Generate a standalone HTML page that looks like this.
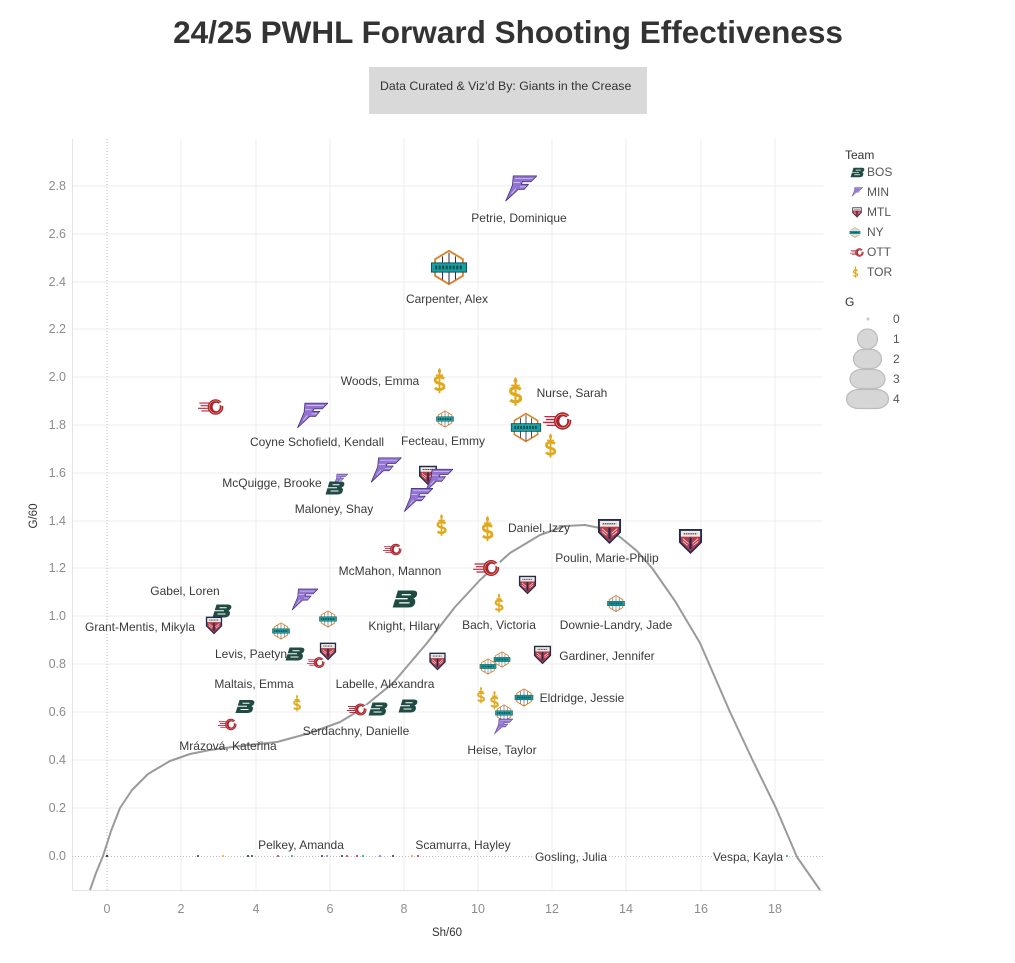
<!DOCTYPE html>
<html><head><meta charset="utf-8"><style>
html,body{margin:0;padding:0;background:#fff;}
svg{display:block;font-family:"Liberation Sans","DejaVu Sans",sans-serif;}
</style></head><body>
<svg width="1015" height="963" viewBox="0 0 1015 963" xmlns="http://www.w3.org/2000/svg">
<defs>
<symbol id="min" viewBox="0 0 40 32">
<path d="M12 1 H40 L33 8 H23 L21.5 11 H30 L25 17 H18 L3 31 L9 17 L11 12 Z" fill="#9274d0" stroke="#3f2a78" stroke-width="0.9"/>
<path d="M14 4 H35 M12 9 H20 M20 14 H27 M10 22 L15 16" stroke="#d2c4f2" stroke-width="1" fill="none"/>
</symbol>
<symbol id="bos" viewBox="0 0 40 30">
<path d="M9 2 H32 Q40 2 38.5 8.5 Q37.5 12.5 33 14 Q37 16 35.5 21.5 Q34 28 25 28 H1 Z" fill="#1f4b43"/>
<path d="M15 8.5 H29 M4 14.5 H24 M11 21 H27" stroke="#fff" stroke-width="2"/>
</symbol>
<symbol id="mtl" viewBox="0 0 26 28">
<polygon points="1,1 25,1 25,15 13,27 1,15" fill="#1e2c4e"/>
<polygon points="3,3 23,3 23,14.5 13,24.5 3,14.5" fill="#b83b4b"/>
<rect x="3" y="3" width="20" height="6" fill="#efe9df"/>
<path d="M13 10 V22" stroke="#1e2c4e" stroke-width="2.2"/>
<path d="M5 11 L11 16 M21 11 L15 16 M5 14 L10 18 M21 14 L16 18" stroke="#f2d8d8" stroke-width="0.9"/>
<path d="M6 6 H20" stroke="#1e2c4e" stroke-width="1.2" stroke-dasharray="1.5 0.8"/>
</symbol>
<symbol id="ny" viewBox="0 0 40 40">
<polygon points="20,2 35,11 35,29 20,38 5,29 5,11" fill="#fff" stroke="#d9822b" stroke-width="2"/>
<path d="M13 8 V33 M20 4 V37 M27 8 V33" stroke="#24324f" stroke-width="1.1"/>
<rect x="1" y="15" width="38" height="10" fill="#1a9e9e" stroke="#0e4d57" stroke-width="1"/>
<path d="M5 20 H35" stroke="#0e4d57" stroke-width="4" stroke-dasharray="2.2 1.6"/>
</symbol>
<symbol id="ott" viewBox="0 0 40 30">
<path d="M2 9 H17 M4 13 H16 M0 17 H16 M5 21 H18" stroke="#c4233c" stroke-width="1.8"/>
<circle cx="27" cy="15" r="12" fill="#a8203a"/>
<circle cx="27" cy="15" r="9.5" fill="none" stroke="#e6a94a" stroke-width="1"/>
<ellipse cx="28" cy="15" rx="5.5" ry="6.5" fill="#fff"/>
<polygon points="30,11 40,5 40,14" fill="#fff"/>
</symbol>
<symbol id="tor" viewBox="0 0 16 28">
<path d="M8 0.5 Q11.5 4 8 7 Q4.5 4 8 0.5Z" fill="#e0a91c"/>
<rect x="7" y="6" width="2" height="21.5" fill="#e0a91c"/>
<rect x="4" y="7.5" width="8" height="1.6" fill="#e0a91c"/>
<path d="M13 12 Q8 8.5 3.8 12 Q2.2 16 8 17 Q14 18 12.5 22 Q8 25.5 3 22" stroke="#e0a91c" stroke-width="3" fill="none"/>
</symbol>
</defs>

<!-- Title -->
<text x="508" y="43" text-anchor="middle" font-size="31.5" font-weight="bold" fill="#333">24/25 PWHL Forward Shooting Effectiveness</text>
<rect x="369" y="67" width="278" height="47" fill="#d9d9d9"/>
<text x="380" y="90" font-size="12.3" fill="#333">Data Curated &amp; Viz’d By: Giants in the Crease</text>

<!-- Grid -->
<g stroke="#ececec" stroke-width="1">
<line x1="181" y1="139" x2="181" y2="890"/>
<line x1="256" y1="139" x2="256" y2="890"/>
<line x1="330" y1="139" x2="330" y2="890"/>
<line x1="404" y1="139" x2="404" y2="890"/>
<line x1="478" y1="139" x2="478" y2="890"/>
<line x1="552" y1="139" x2="552" y2="890"/>
<line x1="626" y1="139" x2="626" y2="890"/>
<line x1="701" y1="139" x2="701" y2="890"/>
<line x1="775" y1="139" x2="775" y2="890"/>
<line x1="72" y1="186" x2="823" y2="186"/>
<line x1="72" y1="234" x2="823" y2="234"/>
<line x1="72" y1="282" x2="823" y2="282"/>
<line x1="72" y1="329" x2="823" y2="329"/>
<line x1="72" y1="377" x2="823" y2="377"/>
<line x1="72" y1="425" x2="823" y2="425"/>
<line x1="72" y1="473" x2="823" y2="473"/>
<line x1="72" y1="521" x2="823" y2="521"/>
<line x1="72" y1="568" x2="823" y2="568"/>
<line x1="72" y1="616" x2="823" y2="616"/>
<line x1="72" y1="664" x2="823" y2="664"/>
<line x1="72" y1="712" x2="823" y2="712"/>
<line x1="72" y1="760" x2="823" y2="760"/>
<line x1="72" y1="808" x2="823" y2="808"/>
</g>
<g stroke="#e4e4e4" stroke-width="1">
<line x1="72.5" y1="139" x2="72.5" y2="890"/>
<line x1="72" y1="890.5" x2="823" y2="890.5"/>
</g>
<g stroke="#bdbdbd" stroke-width="1" stroke-dasharray="1 2">
<line x1="107" y1="139" x2="107" y2="890"/>
<line x1="72" y1="856.5" x2="823" y2="856.5"/>
</g>

<!-- Y ticks -->
<g font-size="12.5" fill="#8c8c8c" text-anchor="end">
<text x="66" y="190">2.8</text>
<text x="66" y="238">2.6</text>
<text x="66" y="286">2.4</text>
<text x="66" y="333">2.2</text>
<text x="66" y="381">2.0</text>
<text x="66" y="429">1.8</text>
<text x="66" y="477">1.6</text>
<text x="66" y="525">1.4</text>
<text x="66" y="572">1.2</text>
<text x="66" y="620">1.0</text>
<text x="66" y="668">0.8</text>
<text x="66" y="716">0.6</text>
<text x="66" y="764">0.4</text>
<text x="66" y="812">0.2</text>
<text x="66" y="860">0.0</text>
</g>
<!-- X ticks -->
<g font-size="12.5" fill="#8c8c8c" text-anchor="middle">
<text x="107" y="913">0</text>
<text x="181" y="913">2</text>
<text x="256" y="913">4</text>
<text x="330" y="913">6</text>
<text x="404" y="913">8</text>
<text x="478" y="913">10</text>
<text x="552" y="913">12</text>
<text x="626" y="913">14</text>
<text x="701" y="913">16</text>
<text x="775" y="913">18</text>
</g>
<text x="447" y="936" text-anchor="middle" font-size="11.5" fill="#333">Sh/60</text>
<text transform="translate(37,516) rotate(-90)" text-anchor="middle" font-size="11.5" fill="#333">G/60</text>

<!-- zero-row dots -->
<g>
<circle cx="107" cy="856" r="1.2" fill="#1f4b43"/>
<circle cx="198" cy="856" r="1" fill="#1f4b43"/>
<circle cx="223" cy="856" r="1" fill="#e0a91c"/>
<circle cx="248" cy="856" r="1" fill="#1e2c4e"/>
<circle cx="252" cy="856" r="1" fill="#1f4b43"/>
<circle cx="278" cy="856" r="1" fill="#b83b4b"/>
<circle cx="292" cy="856" r="1" fill="#1a9e9e"/>
<circle cx="322" cy="856" r="1" fill="#1f4b43"/>
<circle cx="327" cy="856" r="1" fill="#9274d0"/>
<circle cx="342" cy="856" r="1" fill="#1e2c4e"/>
<circle cx="347" cy="856" r="1" fill="#b83b4b"/>
<circle cx="357" cy="856" r="1" fill="#c4233c"/>
<circle cx="363" cy="856" r="1" fill="#1a9e9e"/>
<circle cx="380" cy="856" r="1" fill="#9274d0"/>
<circle cx="393" cy="856" r="1" fill="#1e2c4e"/>
<circle cx="412" cy="856" r="1" fill="#e0a91c"/>
<circle cx="418" cy="856" r="1" fill="#c4233c"/>
<circle cx="597" cy="856" r="1" fill="#e0a91c"/>
<circle cx="787" cy="856" r="1" fill="#1a9e9e"/>
</g>

<!-- trend line -->
<polyline fill="none" stroke="#9a9a9a" stroke-width="2" stroke-linejoin="round" points="90,890 96,873 103,856 111,831 120,808 132,790 148,774 170,761 190,754 210,750 240,746 277,742 310,733 340,722 360,710 393,683 427,643 455,607 480,580 510,553 540,535 565,526 585,525 605,529 620,537 637,551 652,568 675,601 700,643 730,712 753,761 776,808 797,857 820,890"/>

<!-- markers -->
<use href="#min" x="503" y="175" width="34" height="27"/>
<use href="#ny" x="430" y="249" width="38" height="37"/>
<use href="#ott" x="198" y="397" width="26" height="20"/>
<use href="#min" x="295" y="402" width="33" height="27"/>
<use href="#tor" x="432" y="367" width="15" height="27"/>
<use href="#tor" x="507" y="376" width="17" height="31"/>
<use href="#ny" x="435" y="410" width="20" height="18"/>
<use href="#ny" x="510" y="412" width="32" height="31"/>
<use href="#ott" x="543" y="409" width="29" height="24"/>
<use href="#tor" x="543" y="433" width="15" height="25"/>
<use href="#min" x="368" y="457" width="34" height="26"/>
<use href="#mtl" x="416" y="465" width="24" height="21"/>
<use href="#min" x="423" y="468" width="30" height="25"/>
<use href="#min" x="402" y="487" width="31" height="26"/>
<use href="#min" x="332" y="473" width="16" height="14"/>
<use href="#bos" x="325" y="480" width="20" height="16"/>
<use href="#tor" x="435" y="512" width="13" height="26"/>
<use href="#tor" x="480" y="515" width="15" height="27"/>
<use href="#ott" x="383" y="542" width="19" height="15"/>
<use href="#min" x="290" y="587" width="28" height="25"/>
<use href="#bos" x="212" y="603" width="20" height="16"/>
<use href="#mtl" x="205" y="616" width="18" height="19"/>
<use href="#ny" x="272" y="622" width="18" height="18"/>
<use href="#ny" x="318" y="610" width="20" height="18"/>
<use href="#bos" x="392" y="588" width="26" height="22"/>
<use href="#bos" x="285" y="646" width="20" height="16"/>
<use href="#mtl" x="319" y="642" width="18" height="19"/>
<use href="#ott" x="307" y="655" width="18" height="15"/>
<use href="#mtl" x="428" y="652" width="19" height="19"/>
<use href="#bos" x="235" y="698" width="20" height="17"/>
<use href="#tor" x="292" y="693" width="10" height="20"/>
<use href="#ott" x="218" y="717" width="19" height="15"/>
<use href="#ott" x="347" y="702" width="20" height="15"/>
<use href="#bos" x="368" y="701" width="20" height="16"/>
<use href="#bos" x="398" y="698" width="20" height="16"/>
<use href="#mtl" x="597" y="518" width="25" height="27"/>
<use href="#mtl" x="678" y="528" width="25" height="27"/>
<use href="#ott" x="473" y="558" width="27" height="20"/>
<use href="#mtl" x="518" y="575" width="19" height="20"/>
<use href="#tor" x="493" y="593" width="12" height="20"/>
<use href="#ny" x="607" y="594" width="18" height="19"/>
<use href="#mtl" x="533" y="645" width="19" height="20"/>
<use href="#ny" x="478" y="658" width="20" height="17"/>
<use href="#ny" x="492" y="651" width="20" height="17"/>
<use href="#tor" x="476" y="685" width="10" height="20"/>
<use href="#tor" x="489" y="690" width="11" height="20"/>
<use href="#ny" x="514" y="688" width="20" height="19"/>
<use href="#ny" x="494" y="704" width="20" height="18"/>
<use href="#min" x="493" y="718" width="20" height="17"/>

<!-- labels -->
<g font-size="12" fill="#3a3a3a" text-anchor="middle">
<text x="519" y="222">Petrie, Dominique</text>
<text x="447" y="303">Carpenter, Alex</text>
<text x="380" y="385">Woods, Emma</text>
<text x="572" y="397">Nurse, Sarah</text>
<text x="317" y="446">Coyne Schofield, Kendall</text>
<text x="443" y="445">Fecteau, Emmy</text>
<text x="272" y="487">McQuigge, Brooke</text>
<text x="334" y="513">Maloney, Shay</text>
<text x="539" y="532">Daniel, Izzy</text>
<text x="607" y="562">Poulin, Marie-Philip</text>
<text x="390" y="575">McMahon, Mannon</text>
<text x="185" y="595">Gabel, Loren</text>
<text x="140" y="631">Grant-Mentis, Mikyla</text>
<text x="404" y="630">Knight, Hilary</text>
<text x="499" y="629">Bach, Victoria</text>
<text x="616" y="629">Downie-Landry, Jade</text>
<text x="251" y="658">Levis, Paetyn</text>
<text x="607" y="660">Gardiner, Jennifer</text>
<text x="254" y="688">Maltais, Emma</text>
<text x="385" y="688">Labelle, Alexandra</text>
<text x="582" y="702">Eldridge, Jessie</text>
<text x="356" y="735">Serdachny, Danielle</text>
<text x="228" y="750">Mrázová, Kateřina</text>
<text x="502" y="754">Heise, Taylor</text>
<text x="301" y="849">Pelkey, Amanda</text>
<text x="463" y="849">Scamurra, Hayley</text>
<text x="571" y="861" stroke="#fff" stroke-width="3" paint-order="stroke">Gosling, Julia</text>
<text x="748" y="861" stroke="#fff" stroke-width="3" paint-order="stroke">Vespa, Kayla</text>
</g>

<!-- legend -->
<text x="845" y="159" font-size="12" fill="#333">Team</text>
<use href="#bos" x="850" y="167" width="15" height="11"/>
<use href="#min" x="851" y="187" width="12" height="10"/>
<use href="#mtl" x="851" y="207" width="12" height="11"/>
<use href="#ny" x="847" y="227" width="16" height="11"/>
<use href="#ott" x="850" y="247" width="14" height="11"/>
<use href="#tor" x="852" y="266" width="7" height="12"/>
<g font-size="12" fill="#555">
<text x="867" y="176">BOS</text>
<text x="867" y="196">MIN</text>
<text x="867" y="216">MTL</text>
<text x="867" y="236">NY</text>
<text x="867" y="256">OTT</text>
<text x="867" y="276">TOR</text>
</g>
<text x="845" y="306" font-size="12" fill="#333">G</text>
<circle cx="868" cy="319" r="1.5" fill="#c6c6c6"/>
<g fill="#d6d6d6" stroke="#bcbcbc" stroke-width="1.2">
<circle cx="867.5" cy="339" r="10"/>
<rect x="853.5" y="349.5" width="28" height="19" rx="10" ry="9.5"/>
<rect x="850" y="369.5" width="35" height="19" rx="11" ry="9.5"/>
<rect x="846.5" y="389.5" width="42" height="19" rx="12" ry="9.5"/>
</g>
<g font-size="12" fill="#555">
<text x="893" y="323">0</text>
<text x="893" y="343">1</text>
<text x="893" y="363">2</text>
<text x="893" y="383">3</text>
<text x="893" y="403">4</text>
</g>
</svg>
</body></html>
